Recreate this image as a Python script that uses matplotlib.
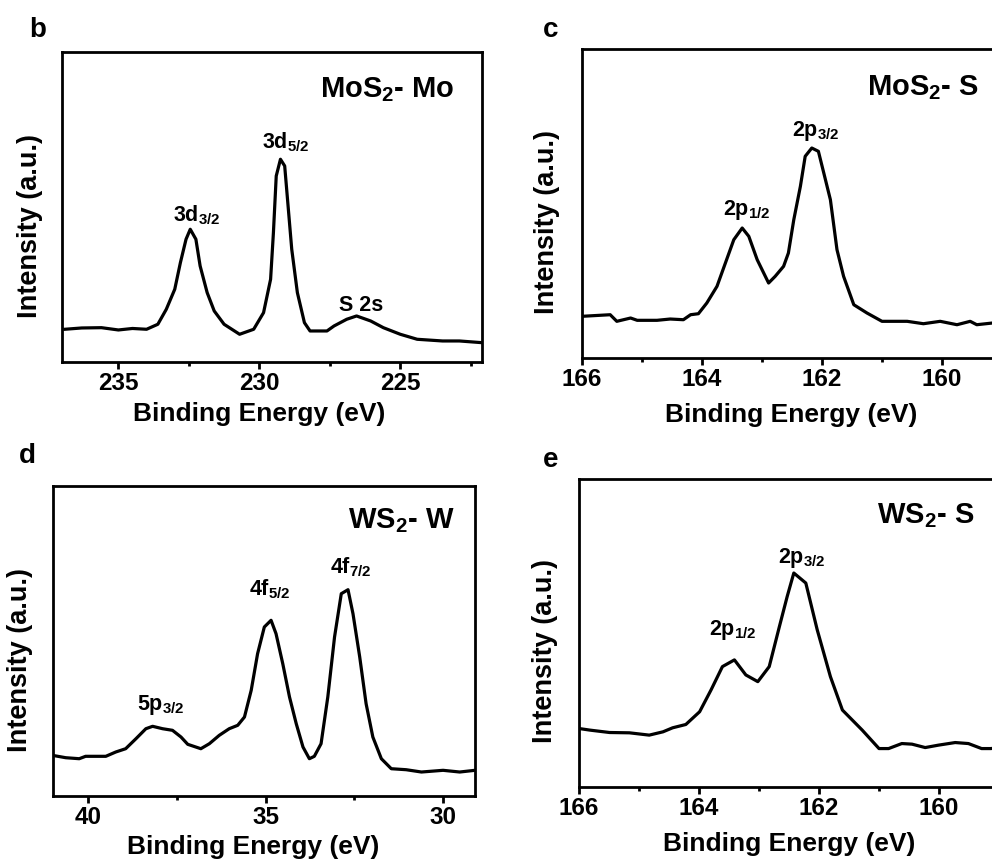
import matplotlib
matplotlib.use('Agg')
import matplotlib.pyplot as plt
from matplotlib.ticker import MultipleLocator

plt.rcParams['font.family'] = ['Liberation Sans', 'DejaVu Sans']
plt.rcParams['font.weight'] = 'bold'
plt.rcParams['mathtext.default'] = 'regular'

# b: MoS2 - Mo 3d region
mo_energy = [236.9, 236.3, 235.6, 235.0, 234.5, 234.0, 233.6, 233.3, 233.0, 232.8, 232.6,
             232.45, 232.25, 232.1, 231.85, 231.6, 231.25, 230.7, 230.2, 229.85, 229.6,
             229.5, 229.4, 229.25, 229.1, 229.0, 228.85, 228.65, 228.4, 228.2, 227.6,
             227.35, 226.9, 226.55, 226.05, 225.6, 225.0, 224.4, 223.5, 222.9, 222.1]
mo_intensity = [32.7, 34.0, 34.3, 32.0, 33.5, 32.7, 37.7, 52.7, 72.7, 99.3, 122.7,
                132.7, 122.7, 96.0, 69.3, 51.0, 37.7, 27.7, 32.7, 49.3, 82.7,
                129.3, 186.0, 202.7, 196.0, 162.7, 112.7, 69.3, 39.3, 31.0, 31.0,
                36.0, 42.7, 46.0, 41.0, 34.3, 27.7, 22.7, 21.0, 21.0, 19.3]

# c: MoS2 - S 2p region
mos2_s_energy = [166.0, 165.53, 165.42, 165.19, 165.08, 164.75, 164.53, 164.31, 164.19, 164.06,
                 163.92, 163.75, 163.61, 163.47, 163.33, 163.22, 163.08, 162.89, 162.78, 162.64,
                 162.56, 162.47, 162.36, 162.28, 162.17, 162.06, 161.97, 161.86, 161.75, 161.64,
                 161.47, 161.25, 161.0, 160.58, 160.31, 160.03, 159.75, 159.53, 159.42, 159.16,
                 158.8, 158.4]
mos2_s_intensity = [41.7, 43.3, 36.7, 40.0, 37.7, 37.7, 39.0, 38.3, 43.3, 44.3,
                    55.0, 71.7, 95.0, 118.3, 130.0, 121.7, 98.3, 75.0, 81.7, 91.7,
                    105.0, 138.3, 171.7, 201.7, 210.0, 206.7, 185.0, 158.3, 108.3, 81.7,
                    53.3, 45.0, 36.7, 36.7, 34.3, 36.7, 33.3, 36.7, 33.3, 35.0,
                    34.5, 34.0]

# d: WS2 - W 4f region
w_energy = [41.02, 40.64, 40.26, 40.08, 39.51, 39.23, 38.95, 38.66, 38.38, 38.19,
            37.91, 37.63, 37.39, 37.2, 36.83, 36.59, 36.31, 36.03, 35.79, 35.6,
            35.41, 35.23, 35.04, 34.85, 34.71, 34.52, 34.33, 34.14, 33.95, 33.77,
            33.63, 33.44, 33.25, 33.06, 32.87, 32.68, 32.54, 32.35, 32.17, 31.98,
            31.74, 31.46, 31.04, 30.61, 30.0, 29.53, 29.1]
w_intensity = [40.7, 38.3, 37.3, 39.7, 39.7, 44.0, 47.3, 57.3, 67.3, 69.7,
               67.3, 65.7, 59.0, 51.7, 47.3, 52.3, 60.7, 67.3, 70.7, 79.0,
               105.7, 142.3, 169.0, 175.7, 162.3, 132.3, 99.0, 72.3, 49.0, 37.3,
               39.7, 52.3, 99.0, 159.0, 202.3, 206.3, 182.3, 139.0, 92.3, 59.0,
               37.3, 27.3, 26.3, 24.0, 25.7, 24.0, 25.7]

# e: WS2 - S 2p region
ws2_s_energy = [166.0, 165.82, 165.49, 165.16, 164.83, 164.6, 164.44, 164.22, 163.99, 163.8,
                163.61, 163.41, 163.22, 163.02, 162.83, 162.66, 162.53, 162.42, 162.22, 162.03,
                161.81, 161.61, 161.28, 161.0, 160.84, 160.62, 160.45, 160.23, 160.01, 159.73,
                159.51, 159.29, 159.14, 158.8, 158.4]
ws2_s_intensity = [58.3, 56.7, 54.3, 54.0, 51.7, 55.0, 59.0, 62.3, 75.0, 96.7,
                   120.0, 126.7, 111.7, 105.0, 120.0, 160.0, 190.0, 213.3, 203.3, 156.7,
                   110.0, 76.7, 56.7, 38.3, 38.3, 43.3, 42.7, 39.3, 41.7, 44.3,
                   43.3, 38.3, 38.3, 40.0, 40.0]

# (text, energy, intensity) for each peak label
mo_labels = [('3d$_{3/2}$', 233.05, 141), ('3d$_{5/2}$', 229.9, 214), ('S 2s', 227.18, 51)]
mos2_s_labels = [('2p$_{1/2}$', 163.65, 143), ('2p$_{3/2}$', 162.5, 222)]
w_labels = [('5p$_{3/2}$', 38.62, 86), ('4f$_{5/2}$', 35.48, 201), ('4f$_{7/2}$', 33.2, 223)]
ws2_s_labels = [('2p$_{1/2}$', 163.83, 152), ('2p$_{3/2}$', 162.69, 223)]

fig = plt.figure(figsize=(9.92, 8.6), dpi=100)


def draw_panel(rect, energy, intensity, xlim, ylim, major, labels, title, title_pos, letter, letter_pos,
               ylabel_pos, xlabel_pos):
    ax = fig.add_axes(rect)
    ax.plot(energy, intensity, color='black', linewidth=2.3)
    ax.set_xlim(*xlim)
    ax.set_ylim(*ylim)
    ax.xaxis.set_major_locator(MultipleLocator(major))
    ax.xaxis.set_minor_locator(MultipleLocator(major / 2))
    ax.set_yticks([])
    for side in ax.spines.values():
        side.set_linewidth(2.0)
    ax.tick_params(axis='x', which='major', direction='out', length=5, width=2, labelsize=17.5, pad=2)
    ax.tick_params(axis='x', which='minor', direction='out', length=3, width=2)
    for lab in ax.get_xticklabels():
        lab.set_fontweight('bold')
    ax.set_xlabel('Binding Energy (eV)', fontsize=19, fontweight='bold')
    ax.xaxis.set_label_coords(*xlabel_pos)
    ax.set_ylabel('Intensity (a.u.)', fontsize=19.5, fontweight='bold')
    ax.yaxis.set_label_coords(*ylabel_pos)
    for text, x, y in labels:
        ax.text(x, y, text, fontsize=15.5, fontweight='bold', ha='left', va='baseline')
    ax.text(title_pos[0], title_pos[1], title, fontsize=21, fontweight='bold', ha='left', va='baseline')
    fig.text(letter_pos[0], letter_pos[1], letter, fontsize=20, fontweight='bold', ha='left', va='baseline')
    return ax


draw_panel([0.0625, 0.5791, 0.4234, 0.3605], mo_energy, mo_intensity, (237.0, 222.1), (0, 310), 5,
           mo_labels, 'MoS$_2$- Mo', (227.83, 265), 'b', (29 / 992, 1 - 37 / 860),
           (-0.045, 0.44), (0.469, -0.13))
draw_panel([0.5867, 0.5837, 0.4536, 0.3593], mos2_s_energy, mos2_s_intensity, (166.0, 158.5), (0, 309), 2,
           mos2_s_labels, 'MoS$_2$- S', (161.25, 263), 'c', (543 / 992, 1 - 37 / 860),
           (-0.049, 0.44), (0.464, -0.145))
draw_panel([0.0534, 0.0744, 0.4254, 0.3605], w_energy, w_intensity, (41.0, 29.1), (0, 310), 5,
           w_labels, 'WS$_2$- W', (32.68, 268), 'd', (19 / 992, 1 - 463 / 860),
           (-0.047, 0.44), (0.474, -0.125))
draw_panel([0.5837, 0.0849, 0.4536, 0.3581], ws2_s_energy, ws2_s_intensity, (166.0, 158.5), (0, 307), 2,
           ws2_s_labels, 'WS$_2$- S', (161.03, 263), 'e', (543 / 992, 1 - 467 / 860),
           (-0.046, 0.44), (0.467, -0.145))

fig.savefig('out.png', dpi=100)
